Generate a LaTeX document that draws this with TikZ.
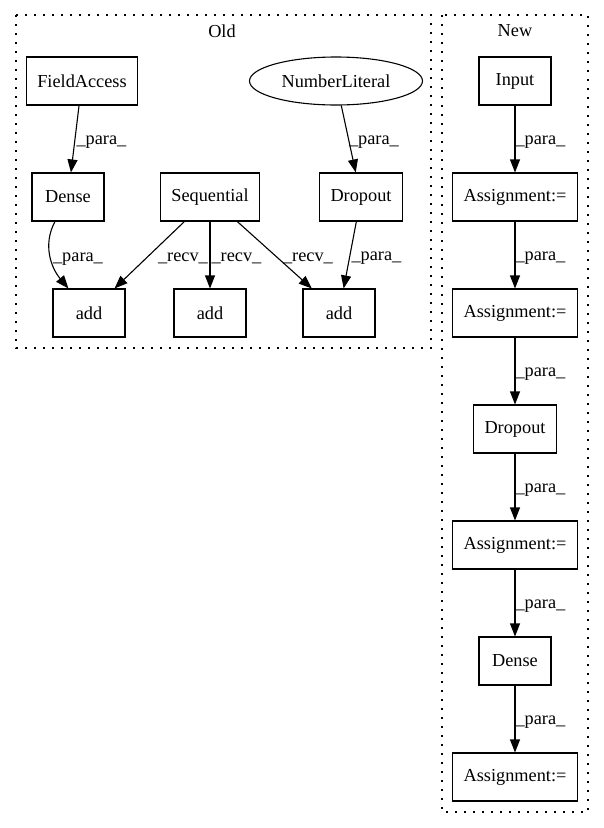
\documentclass[tikz,border=0pt]{standalone}
\usepackage{fontspec}
\setmainfont{Liberation Serif}
\usetikzlibrary{arrows.meta,shapes.geometric}

\begin{document}
\begin{tikzpicture}[x=1pt,y=1pt,font=\fontsize{18.3}{22}\selectfont,
  box/.style={draw,line width=1.1pt,minimum width=72pt,minimum height=48pt,inner xsep=11pt},
  oval/.style={draw,ellipse,line width=1.1pt,minimum width=173pt,minimum height=48pt,inner sep=0pt},
  edge/.style={-{Triangle[length=13pt,width=10pt]},line width=1.1pt},
  lbl/.style={anchor=west,inner sep=0pt,yshift=-3pt},
  cluster/.style={draw,line width=1.1pt,dash pattern=on 2pt off 7pt}]
\useasboundingbox (0,0) rectangle (604,-828);

% clusters
\draw [cluster] (16,-15) rectangle (431,-348);
\draw [cluster] (442,-15) rectangle (588,-812);
\node (oldlbl) at (222,-31) {Old};
\node (newlbl) at (515,-31) {New};

% old
\node [box] (field) at (82,-81) {FieldAccess};
\node [oval] (numlit) at (336,-81) {NumberLiteral};
\node [box] (dense) at (68,-197) {Dense};
\node [box] (seq) at (210,-197) {Sequential};
\node [box] (drop) at (361,-197) {Dropout};
\foreach \nm/\x in {add1/89,add2/210,add3/339}{
\node [box] (\nm) at (\x,-313) {add};
}
\draw [edge] (field) -- node [lbl,xshift=1pt] {\_para\_} (dense);
\draw [edge] (numlit) -- node [lbl] {\_para\_} (drop);
\draw [edge] (dense) to [out=-118,in=130] node [lbl,xshift=2pt] {\_para\_} (add1);
\draw [edge] (seq) -- node [lbl,xshift=8pt] {\_recv\_} (add1);
\draw [edge] (seq) -- node [lbl,xshift=1pt] {\_recv\_} (add2);
\draw [edge] (seq) -- node [lbl,xshift=8pt] {\_recv\_} (add3);
\draw [edge] (drop) -- node [lbl,xshift=1pt] {\_para\_} (add3);

% new
\foreach \nm/\txt/\y in {inp/Input/81,asg1/Assignment:=/197,asg2/Assignment:=/313,drop2/Dropout/429,asg3/Assignment:=/545,dense2/Dense/661,asg4/Assignment:=/777}{
\node [box] (\nm) at (515,-\y) {\txt};
}
\foreach \a/\b in {inp/asg1,asg1/asg2,asg2/drop2,drop2/asg3,asg3/dense2,dense2/asg4}{
\draw [edge] (\a) -- node [lbl] {\_para\_} (\b);
}
\end{tikzpicture}
\end{document}
